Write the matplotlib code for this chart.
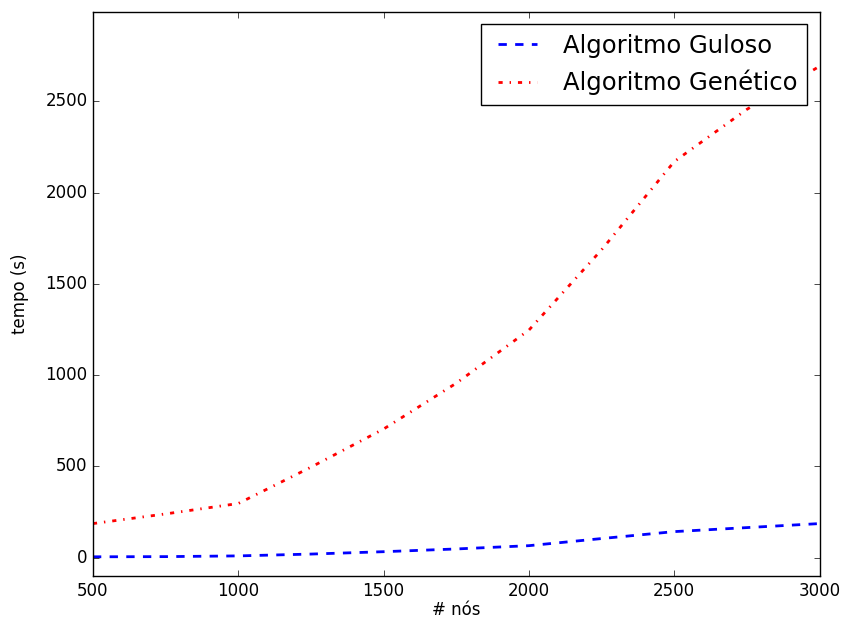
import matplotlib
matplotlib.use("Agg")
import matplotlib.pyplot as plt

plt.style.use("classic")

nos = [500, 750, 1000, 1250, 1500, 1750, 2000, 2250, 2500, 2750, 3000]
guloso = [5, 6, 10, 20, 33, 48, 66, 105, 143, 165, 187]
genetico = [187, 240, 297, 496, 705, 956, 1247, 1687, 2170, 2456, 2692]

fig = plt.figure(figsize=(8.45, 6.21), dpi=100, facecolor="white")
ax = fig.add_axes([0.110, 0.0725, 0.860, 0.9085])

ax.plot(nos, guloso, "b--", lw=2, label="Algoritmo Guloso")
ax.plot(nos, genetico, "r-.", lw=2, label="Algoritmo Genético")

ax.set_xlim(500, 3000)
ax.set_ylim(-100, 2990)
ax.set_xlabel("# nós", fontsize=12, labelpad=1)
ax.set_ylabel("tempo (s)", fontsize=12, labelpad=12)
ax.tick_params(labelsize=12)
ax.legend(loc="upper right", fontsize=17.5, handlelength=2.2)

fig.savefig("out.png", dpi=100, facecolor="white")
